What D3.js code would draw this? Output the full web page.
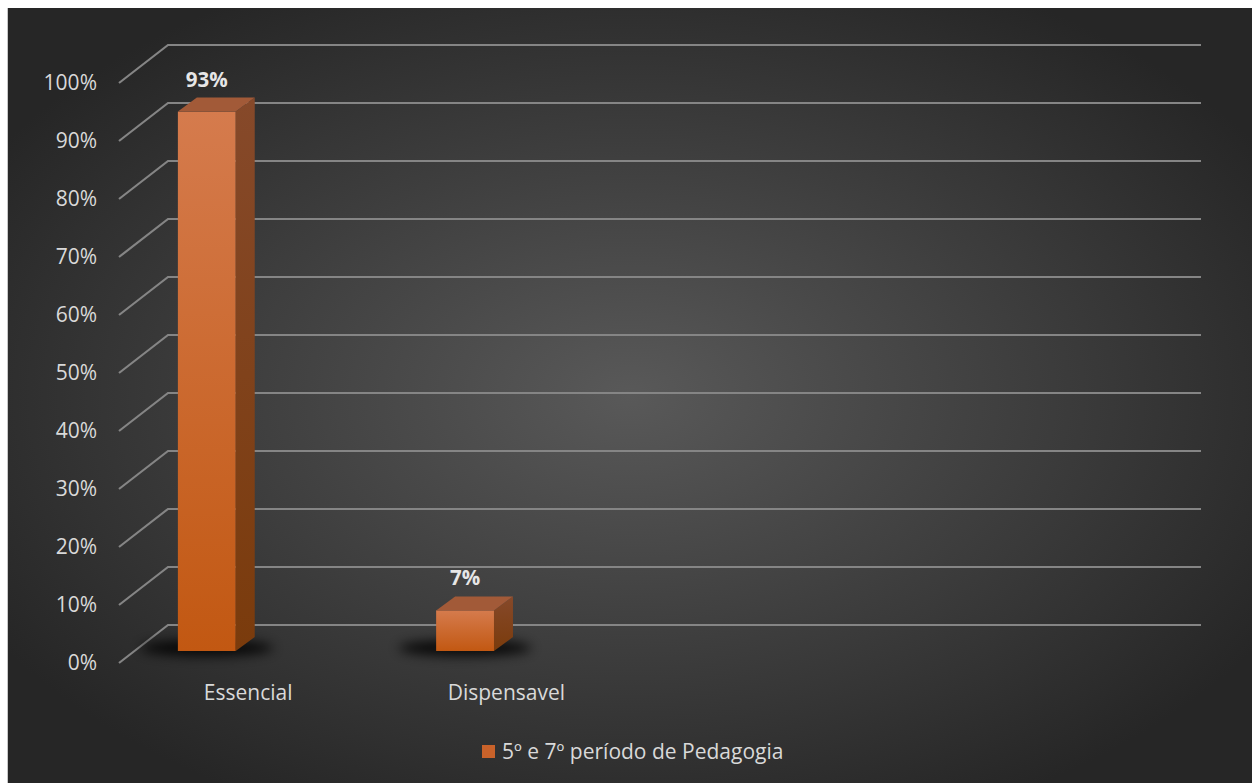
<!DOCTYPE html>
<html><head><meta charset="utf-8">
<script src="https://cdn.jsdelivr.net/npm/d3@7"></script>
<style>html,body{margin:0;padding:0;background:#fff;}svg{display:block;}</style>
</head><body>
<svg id="c" width="1256" height="783"></svg>
<script>
const categories = ["Essencial", "Dispensavel"];
const values = [93, 7];
const valueLabels = ["93%", "7%"];
const tickValues = [0,10,20,30,40,50,60,70,80,90,100];
const seriesName = "5º e 7º período de Pedagogia";
const slotCount = 4;

const svg = d3.select("#c");
const W = 1256, H = 783;
const defs = svg.append("defs");

const bg = defs.append("radialGradient").attr("id","bg").attr("cx","50%").attr("cy","50%").attr("r","60%");
bg.append("stop").attr("offset","0%").attr("stop-color","#595959");
bg.append("stop").attr("offset","100%").attr("stop-color","#262626");

const front = defs.append("linearGradient").attr("id","front").attr("x1",0).attr("y1",0).attr("x2",0).attr("y2",1);
front.append("stop").attr("offset","0%").attr("stop-color","#d57b4d");
front.append("stop").attr("offset","100%").attr("stop-color","#c25812");
const side = defs.append("linearGradient").attr("id","side").attr("x1",0).attr("y1",0).attr("x2",0).attr("y2",1);
side.append("stop").attr("offset","0%").attr("stop-color","#86492a");
side.append("stop").attr("offset","100%").attr("stop-color","#7a3b0c");
const blur = defs.append("filter").attr("id","blur").attr("x","-50%").attr("y","-200%").attr("width","200%").attr("height","500%");
blur.append("feGaussianBlur").attr("stdDeviation",6);

svg.append("line").attr("x1",7.5).attr("x2",7.5).attr("y1",8).attr("y2",H).attr("stroke","#c8c8c8").attr("stroke-width",1);
svg.append("rect").attr("x",8).attr("y",8).attr("width",1244).attr("height",H-8).attr("fill","url(#bg)");

// geometry
const frontLeft = 119, backRight = 1201;
const depthX = 49, depthY = -38;
const y = d3.scaleLinear().domain([0,100]).range([663, 83]);
const x = d3.scaleBand().domain(d3.range(slotCount)).range([frontLeft, backRight - depthX]);

// gridlines
const g = svg.append("g");
tickValues.forEach(t => {
  const yf = y(t);
  g.append("path")
    .attr("d", `M${frontLeft},${yf}L${frontLeft+depthX},${yf+depthY}L${backRight},${yf+depthY}`)
    .attr("fill","none").attr("stroke","#858585").attr("stroke-width",2.2);
});

// tick labels
svg.append("g").selectAll("text").data(tickValues).join("text")
  .attr("x", 97).attr("y", d => y(d)).attr("dy","0.35em")
  .attr("text-anchor","end").attr("font-family","Open Sans").attr("font-size",21)
  .attr("fill","#d9d9d9").text(d => d + "%");

// bars
const bw = x.bandwidth();
const barW = 0.224 * bw;
const bDx = 19, bDy = -14;
const baseOffset = -12; // bar front plane relative to floor front
const yb = d3.scaleLinear().domain([0,100]).range([y(0)+baseOffset, y(100)+baseOffset]);

const bars = svg.append("g");
values.forEach((v, i) => {
  const x0 = x(i) + 0.228 * bw;
  const x1 = x0 + barW;
  const yt = yb(v), y0 = yb(0);
  // shadow
  bars.append("ellipse").attr("cx", x0 + barW*0.5).attr("cy", y0 - 3)
    .attr("rx", barW*1.15).attr("ry", 8).attr("fill","#000").attr("opacity",0.85).attr("filter","url(#blur)");
  // front
  bars.append("rect").attr("x", x0).attr("y", yt).attr("width", barW).attr("height", y0 - yt).attr("fill","url(#front)");
  // side
  bars.append("path").attr("d", `M${x1},${yt}L${x1+bDx},${yt+bDy}L${x1+bDx},${y0+bDy}L${x1},${y0}Z`).attr("fill","url(#side)");
  // top
  bars.append("path").attr("d", `M${x0},${yt}L${x0+bDx},${yt+bDy}L${x1+bDx},${yt+bDy}L${x1},${yt}Z`).attr("fill","#a25a38");
  // value label
  bars.append("text").attr("x", x0 + barW/2).attr("y", yt + bDy - 11)
    .attr("text-anchor","middle").attr("font-family","Open Sans").attr("font-weight","bold")
    .attr("font-size",20.5).attr("fill","#e6e6e6").text(valueLabels[i]);
  // category label
  bars.append("text").attr("x", x(i) + bw/2).attr("y", 693).attr("dy","0.35em")
    .attr("text-anchor","middle").attr("font-family","Open Sans").attr("font-size",21)
    .attr("fill","#d9d9d9").text(categories[i]);
});

// legend
const lg = svg.append("g");
lg.append("rect").attr("x",482).attr("y",745).attr("width",13).attr("height",13).attr("fill","#c9622a");
lg.append("text").attr("x",502).attr("y",752).attr("dy","0.35em").attr("font-family","Open Sans")
  .attr("font-size",21).attr("fill","#d9d9d9").text(seriesName);
</script>
</body></html>
